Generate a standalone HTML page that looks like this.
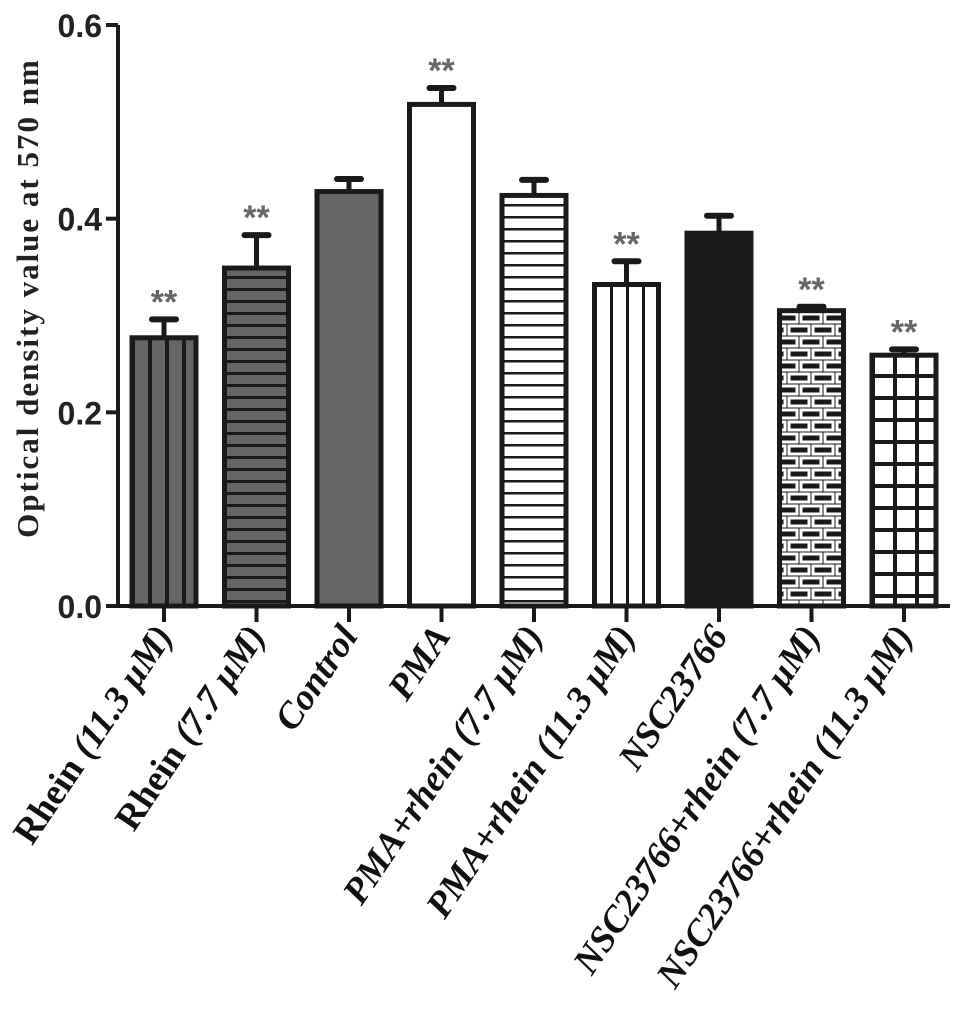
<!DOCTYPE html>
<html><head><meta charset="utf-8"><style>
html,body{margin:0;padding:0;background:#fff;}
svg{display:block;}
</style></head><body>
<svg id="chart" width="969" height="1011" xmlns="http://www.w3.org/2000/svg">
<defs>
<pattern id="p-vgray" patternUnits="userSpaceOnUse" width="17" height="10" x="131"><rect width="17" height="10" fill="#666"/><rect x="0" width="4" height="10" fill="#1a1a1a"/></pattern>
<pattern id="p-hgray" patternUnits="userSpaceOnUse" width="10" height="12"><rect width="10" height="12" fill="#666"/><rect y="0" width="10" height="3" fill="#1a1a1a"/></pattern>
<pattern id="p-hwhite" patternUnits="userSpaceOnUse" width="10" height="12"><rect width="10" height="12" fill="#fff"/><rect y="0" width="10" height="2.5" fill="#1a1a1a"/></pattern>
<pattern id="p-vwhite" patternUnits="userSpaceOnUse" width="16" height="10" x="594"><rect width="16" height="10" fill="#fff"/><rect x="0" width="3" height="10" fill="#1a1a1a"/></pattern>
<pattern id="p-brick" patternUnits="userSpaceOnUse" width="24" height="24" x="775"><rect width="24" height="24" fill="#1a1a1a"/><rect x="2" y="2" width="20" height="8" fill="none" stroke="#fff" stroke-width="3"/><rect x="-10" y="14" width="20" height="8" fill="none" stroke="#fff" stroke-width="3"/><rect x="14" y="14" width="20" height="8" fill="none" stroke="#fff" stroke-width="3"/></pattern>
<pattern id="p-grid" patternUnits="userSpaceOnUse" width="22" height="22" x="871"><rect width="22" height="22" fill="#fff"/><rect width="4" height="22" fill="#1a1a1a"/><rect width="22" height="4" fill="#1a1a1a"/></pattern>
</defs>
<g id="plot"></g>
</svg>
<script>
const categories = ["Rhein (11.3 μM)","Rhein (7.7 μM)","Control","PMA","PMA+rhein (7.7 μM)","PMA+rhein (11.3 μM)","NSC23766","NSC23766+rhein (7.7 μM)","NSC23766+rhein (11.3 μM)"];
const values = [0.277,0.349,0.428,0.518,0.424,0.332,0.385,0.305,0.259];
const errors = [0.019,0.034,0.013,0.017,0.016,0.024,0.018,0.004,0.006];
const significance = ["**","**","","**","","**","","**","**"];
const yTicks = [0.0,0.2,0.4,0.6];
const yTickLabels = ["0.0","0.2","0.4","0.6"];
const fills = ["url(#p-vgray)","url(#p-hgray)","#666","#fff","url(#p-hwhite)","url(#p-vwhite)","#1a1a1a","url(#p-brick)","url(#p-grid)"];

const NS="http://www.w3.org/2000/svg";
const g=document.getElementById('plot');
const x0=118, yBase=606, yTop=25, yMax=0.6;
const y=v=>yBase-(v/yMax)*(yBase-yTop);
const xc=i=>164+i*92.5;
const bw=64;
function mk(t,a){const e=document.createElementNS(NS,t);for(const k in a)e.setAttribute(k,a[k]);g.appendChild(e);return e;}

categories.forEach((c,i)=>{
  const cx=xc(i), top=y(values[i]), et=y(values[i]+errors[i]);
  const eb=mk('line',{x1:cx,x2:cx,y1:top,y2:et,stroke:'#1a1a1a','stroke-width':5});
  
  
  const cap=mk('line',{x1:cx-12,x2:cx+12,y1:et,y2:et,stroke:'#1a1a1a','stroke-width':6,'stroke-linecap':'round'});
  
  
  const r=mk('rect',{x:cx-bw/2,y:top,width:bw,height:yBase-top,fill:fills[i],stroke:'#1a1a1a','stroke-width':5});
  
  
  if(significance[i]){
    const s=mk('text',{x:cx,y:et-6,'text-anchor':'middle','font-family':'Liberation Sans, sans-serif','font-size':34,fill:'#666','font-weight':'bold'});
    s.textContent=significance[i];
    
    
  }
  const tk=mk('line',{x1:cx,x2:cx,y1:yBase,y2:yBase+16,stroke:'#1a1a1a','stroke-width':4});
  
  
  const lx=cx+10, ly=yBase+30;
  const lb=mk('text',{x:lx,y:ly,'text-anchor':'end','font-family':'Liberation Serif, serif','font-size':37,'font-weight':'bold',fill:'#111',transform:`rotate(-56 ${lx} ${ly})`});
  
  
  if(c.startsWith('Rhein')){
    const a=document.createElementNS(NS,'tspan');a.textContent='Rhein ';lb.appendChild(a);
    const b=document.createElementNS(NS,'tspan');b.setAttribute('font-style','italic');b.textContent=c.slice(6);lb.appendChild(b);
  } else {lb.setAttribute('font-style','italic');lb.textContent=c;}
});

const ax=mk('path',{d:`M${x0},${yTop} V${yBase} H950`,fill:'none',stroke:'#1a1a1a','stroke-width':4});


yTicks.forEach((t,i)=>{
  const yy=y(t);
  const l=mk('line',{x1:x0-12,x2:x0,y1:yy,y2:yy,stroke:'#1a1a1a','stroke-width':4});
  
  
  const tx=mk('text',{x:x0-16,y:yy+12,'text-anchor':'end','font-family':'Liberation Sans, sans-serif','font-size':32,'font-weight':'bold',fill:'#222'});
  tx.textContent=yTickLabels[i];
  
  
});
const yt=mk('text',{x:38,y:298,'text-anchor':'middle','font-family':'Liberation Serif, serif','font-size':31,'font-weight':'bold',fill:'#222','letter-spacing':'2',transform:'rotate(-90 38 298)'});
yt.textContent='Optical density value at 570 nm';


</script>
</body></html>
